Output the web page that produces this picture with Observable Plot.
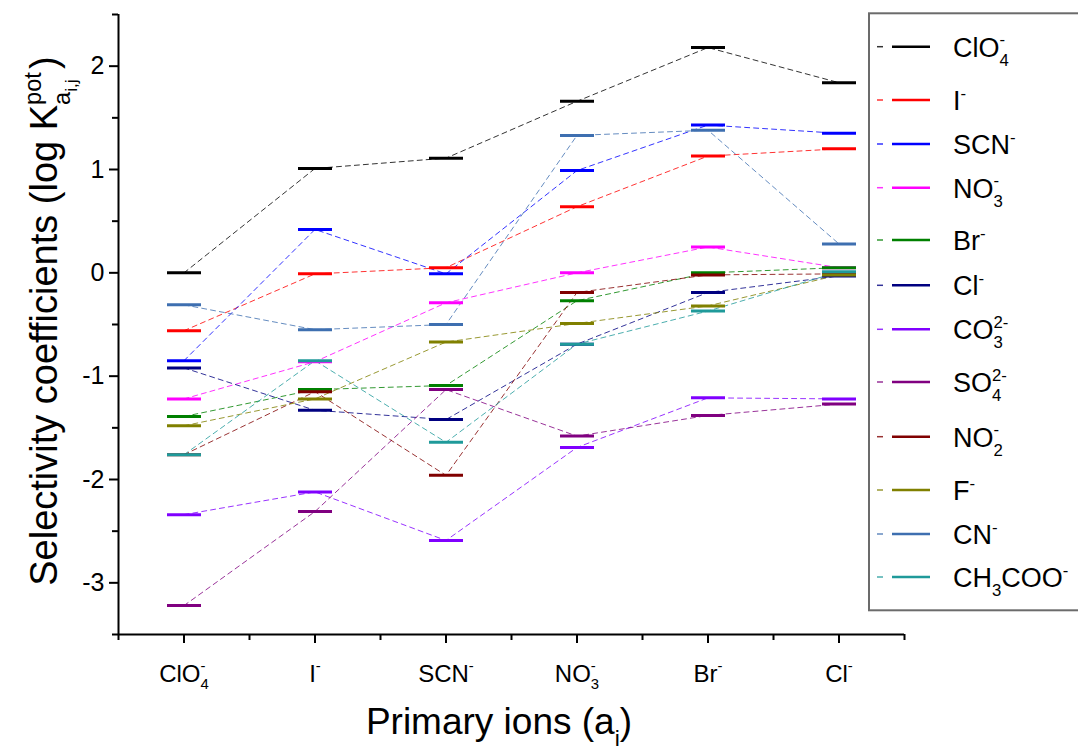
<!DOCTYPE html>
<html><head><meta charset="utf-8">
<script src="https://cdn.jsdelivr.net/npm/d3@7"></script>
<script src="https://cdn.jsdelivr.net/npm/@observablehq/plot@0.6"></script>
<style>
body{margin:0;background:#fff;}
#chart{position:relative;width:1078px;height:751px;overflow:hidden;}
</style></head><body><div id="chart"></div>
<script>
// ---- data ----
const primaryIons = ["ClO4-", "I-", "SCN-", "NO3-", "Br-", "Cl-"];
const interferingIons = ["ClO4-", "I-", "SCN-", "NO3-", "Br-", "Cl-", "CO32-", "SO42-", "NO2-", "F-", "CN-", "CH3COO-"];
const seriesColors = ["#000000", "#ff0000", "#0000ff", "#ff00ff", "#008000", "#000080", "#8000ff", "#800080", "#800000", "#808000", "#3e6fb0", "#1f9a9a"];
const valClO4 = [0, 1.01, 1.11, 1.66, 2.18, 1.84];
const valI = [-0.56, -0.01, 0.05, 0.64, 1.13, 1.20];
const valSCN = [-0.85, 0.42, -0.01, 0.99, 1.43, 1.35];
const valNO3 = [-1.22, -0.86, -0.29, 0.00, 0.25, 0.05];
const valBr = [-1.39, -1.13, -1.09, -0.27, 0.00, 0.05];
const valCl = [-0.92, -1.33, -1.42, -0.69, -0.19, -0.03];
const valCO3 = [-2.34, -2.12, -2.59, -1.69, -1.21, -1.22];
const valSO4 = [-3.22, -2.31, -1.13, -1.58, -1.38, -1.27];
const valNO2 = [-1.76, -1.15, -1.96, -0.19, -0.02, -0.01];
const valF = [-1.48, -1.22, -0.67, -0.49, -0.32, -0.02];
const valCN = [-0.31, -0.55, -0.50, 1.33, 1.38, 0.28];
const valCH3COO = [-1.76, -0.85, -1.64, -0.69, -0.37, 0.01];
const seriesValues = [valClO4, valI, valSCN, valNO3, valBr, valCl, valCO3, valSO4, valNO2, valF, valCN, valCH3COO];
const yTicks = [-3, -2, -1, 0, 1, 2];

// rich text labels: [text, kind]
const ionLabel = {
  "ClO4-": [["ClO","b"],["-","sup"],["4","sub"]],
  "I-": [["I","b"],["-","sup"]],
  "SCN-": [["SCN","b"],["-","sup"]],
  "NO3-": [["NO","b"],["-","sup"],["3","sub"]],
  "Br-": [["Br","b"],["-","sup"]],
  "Cl-": [["Cl","b"],["-","sup"]],
  "CO32-": [["CO","b"],["2-","sup"],["3","sub"]],
  "SO42-": [["SO","b"],["2-","sup"],["4","sub"]],
  "NO2-": [["NO","b"],["-","sup"],["2","sub"]],
  "F-": [["F","b"],["-","sup"]],
  "CN-": [["CN","b"],["-","sup"]],
  "CH3COO-": [["CH","b"],["3","sub"],["COO","b"],["-","sup"]]
};

// ---- table ----
const table = [];
interferingIons.forEach((s, k) => {
  seriesValues[k].forEach((v, i) => table.push({series: s, pos: i + 1, value: v}));
});

const hline = {draw(ctx) { ctx.moveTo(-17, 0); ctx.lineTo(17, 0); }};
const FONT = "'Liberation Sans', Arial, sans-serif";

const plot = Plot.plot({
  width: 1078, height: 751,
  marginLeft: 118, marginRight: 174, marginTop: 14, marginBottom: 117,
  style: {fontFamily: FONT, fontSize: "24px", color: "#000", background: "transparent"},
  x: {domain: [0.5, 6.5], label: null},
  y: {domain: [-3.5, 2.5], label: null},
  color: {domain: interferingIons, range: seriesColors},
  marks: [
    Plot.axisX({ticks: d3.range(0.5, 7, 1), tickSize: 6, tickFormat: () => "", strokeWidth: 2}),
    Plot.axisX({ticks: [1, 2, 3, 4, 5, 6], tickSize: 9, tickPadding: 21, strokeWidth: 2,
      tickFormat: i => primaryIons[i - 1], fontSize: 24}),
    Plot.axisY({ticks: d3.range(-3.5, 3, 1), tickSize: 6, tickFormat: () => "", strokeWidth: 2}),
    Plot.axisY({ticks: yTicks, tickSize: 9, tickPadding: 5, strokeWidth: 2, fontSize: 25,
      tickFormat: d => d < 0 ? "-" + Math.abs(d) : String(d)}),
    Plot.ruleX([0.5], {strokeWidth: 2}),
    Plot.ruleY([-3.5], {strokeWidth: 2}),
    Plot.line(table, {x: "pos", y: "value", z: "series", stroke: "series",
      strokeWidth: 1, strokeDasharray: "5,4", strokeOpacity: 0.8}),
    Plot.dot(table, {x: "pos", y: "value", stroke: "series", symbol: hline, r: 5,
      fill: "none", strokeWidth: 3})
  ]
});
document.getElementById("chart").appendChild(plot);

const svg = d3.select(plot);

function rich(textEl, parts, fs) {
  const t = d3.select(textEl);
  t.text(null);
  let shift = 0, supLen = 0, prev = "b";
  const offs = {b: 0, sup: -0.42 * fs, sub: 0.33 * fs, subsub: 0.52 * fs};
  const sizes = {b: fs, sup: 0.62 * fs, sub: 0.62 * fs, subsub: 0.45 * fs};
  for (const [txt, kind] of parts) {
    const ts = t.append("tspan").text(txt).attr("font-size", sizes[kind]);
    ts.attr("dy", offs[kind] - shift);
    shift = offs[kind];
    if (kind === "sub" && prev === "sup") ts.attr("dx", -supLen);
    if (kind === "sup") supLen = ts.node().getComputedTextLength();
    prev = kind;
  }
}

// x tick labels with sub/superscripts
svg.selectAll("g[aria-label='x-axis tick label'] text").each(function() {
  const key = this.textContent;
  if (ionLabel[key]) rich(this, ionLabel[key], 24);
});

// axis titles
const yt = svg.append("text")
  .attr("transform", "translate(57,321) rotate(-90)")
  .attr("text-anchor", "middle").attr("font-family", FONT).attr("fill", "#000");
rich(yt.node(), [["Selectivity coefficients (log K", "b"], ["pot", "sup"], ["a", "sub"], ["i,j", "subsub"], [" )", "b"]], 38);

const xt = svg.append("text")
  .attr("x", 499).attr("y", 734)
  .attr("text-anchor", "middle").attr("font-family", FONT).attr("fill", "#000");
rich(xt.node(), [["Primary ions (a", "b"], ["i", "sub"], [")", "b"]], 37);

// legend
const legendRows = [46.7, 100, 144, 187.7, 240, 285.3, 329.3, 382, 436.7, 490, 534, 577];
const lg = svg.append("g");
lg.append("rect").attr("x", 869).attr("y", 13.3).attr("width", 260).attr("height", 597)
  .attr("fill", "#fff").attr("stroke", "#6b6b6b").attr("stroke-width", 2);
interferingIons.forEach((s, k) => {
  const y = legendRows[k];
  lg.append("line").attr("x1", 877).attr("x2", 883).attr("y1", y).attr("y2", y)
    .attr("stroke", seriesColors[k]).attr("stroke-width", 1.5).attr("stroke-opacity", 0.8);
  lg.append("line").attr("x1", 892).attr("x2", 930).attr("y1", y).attr("y2", y)
    .attr("stroke", seriesColors[k]).attr("stroke-width", 2.5);
  const t = lg.append("text").attr("x", 953).attr("y", y + 10)
    .attr("text-anchor", "start").attr("font-family", FONT).attr("fill", "#000");
  rich(t.node(), ionLabel[s], 27);
});
</script>
</body></html>
